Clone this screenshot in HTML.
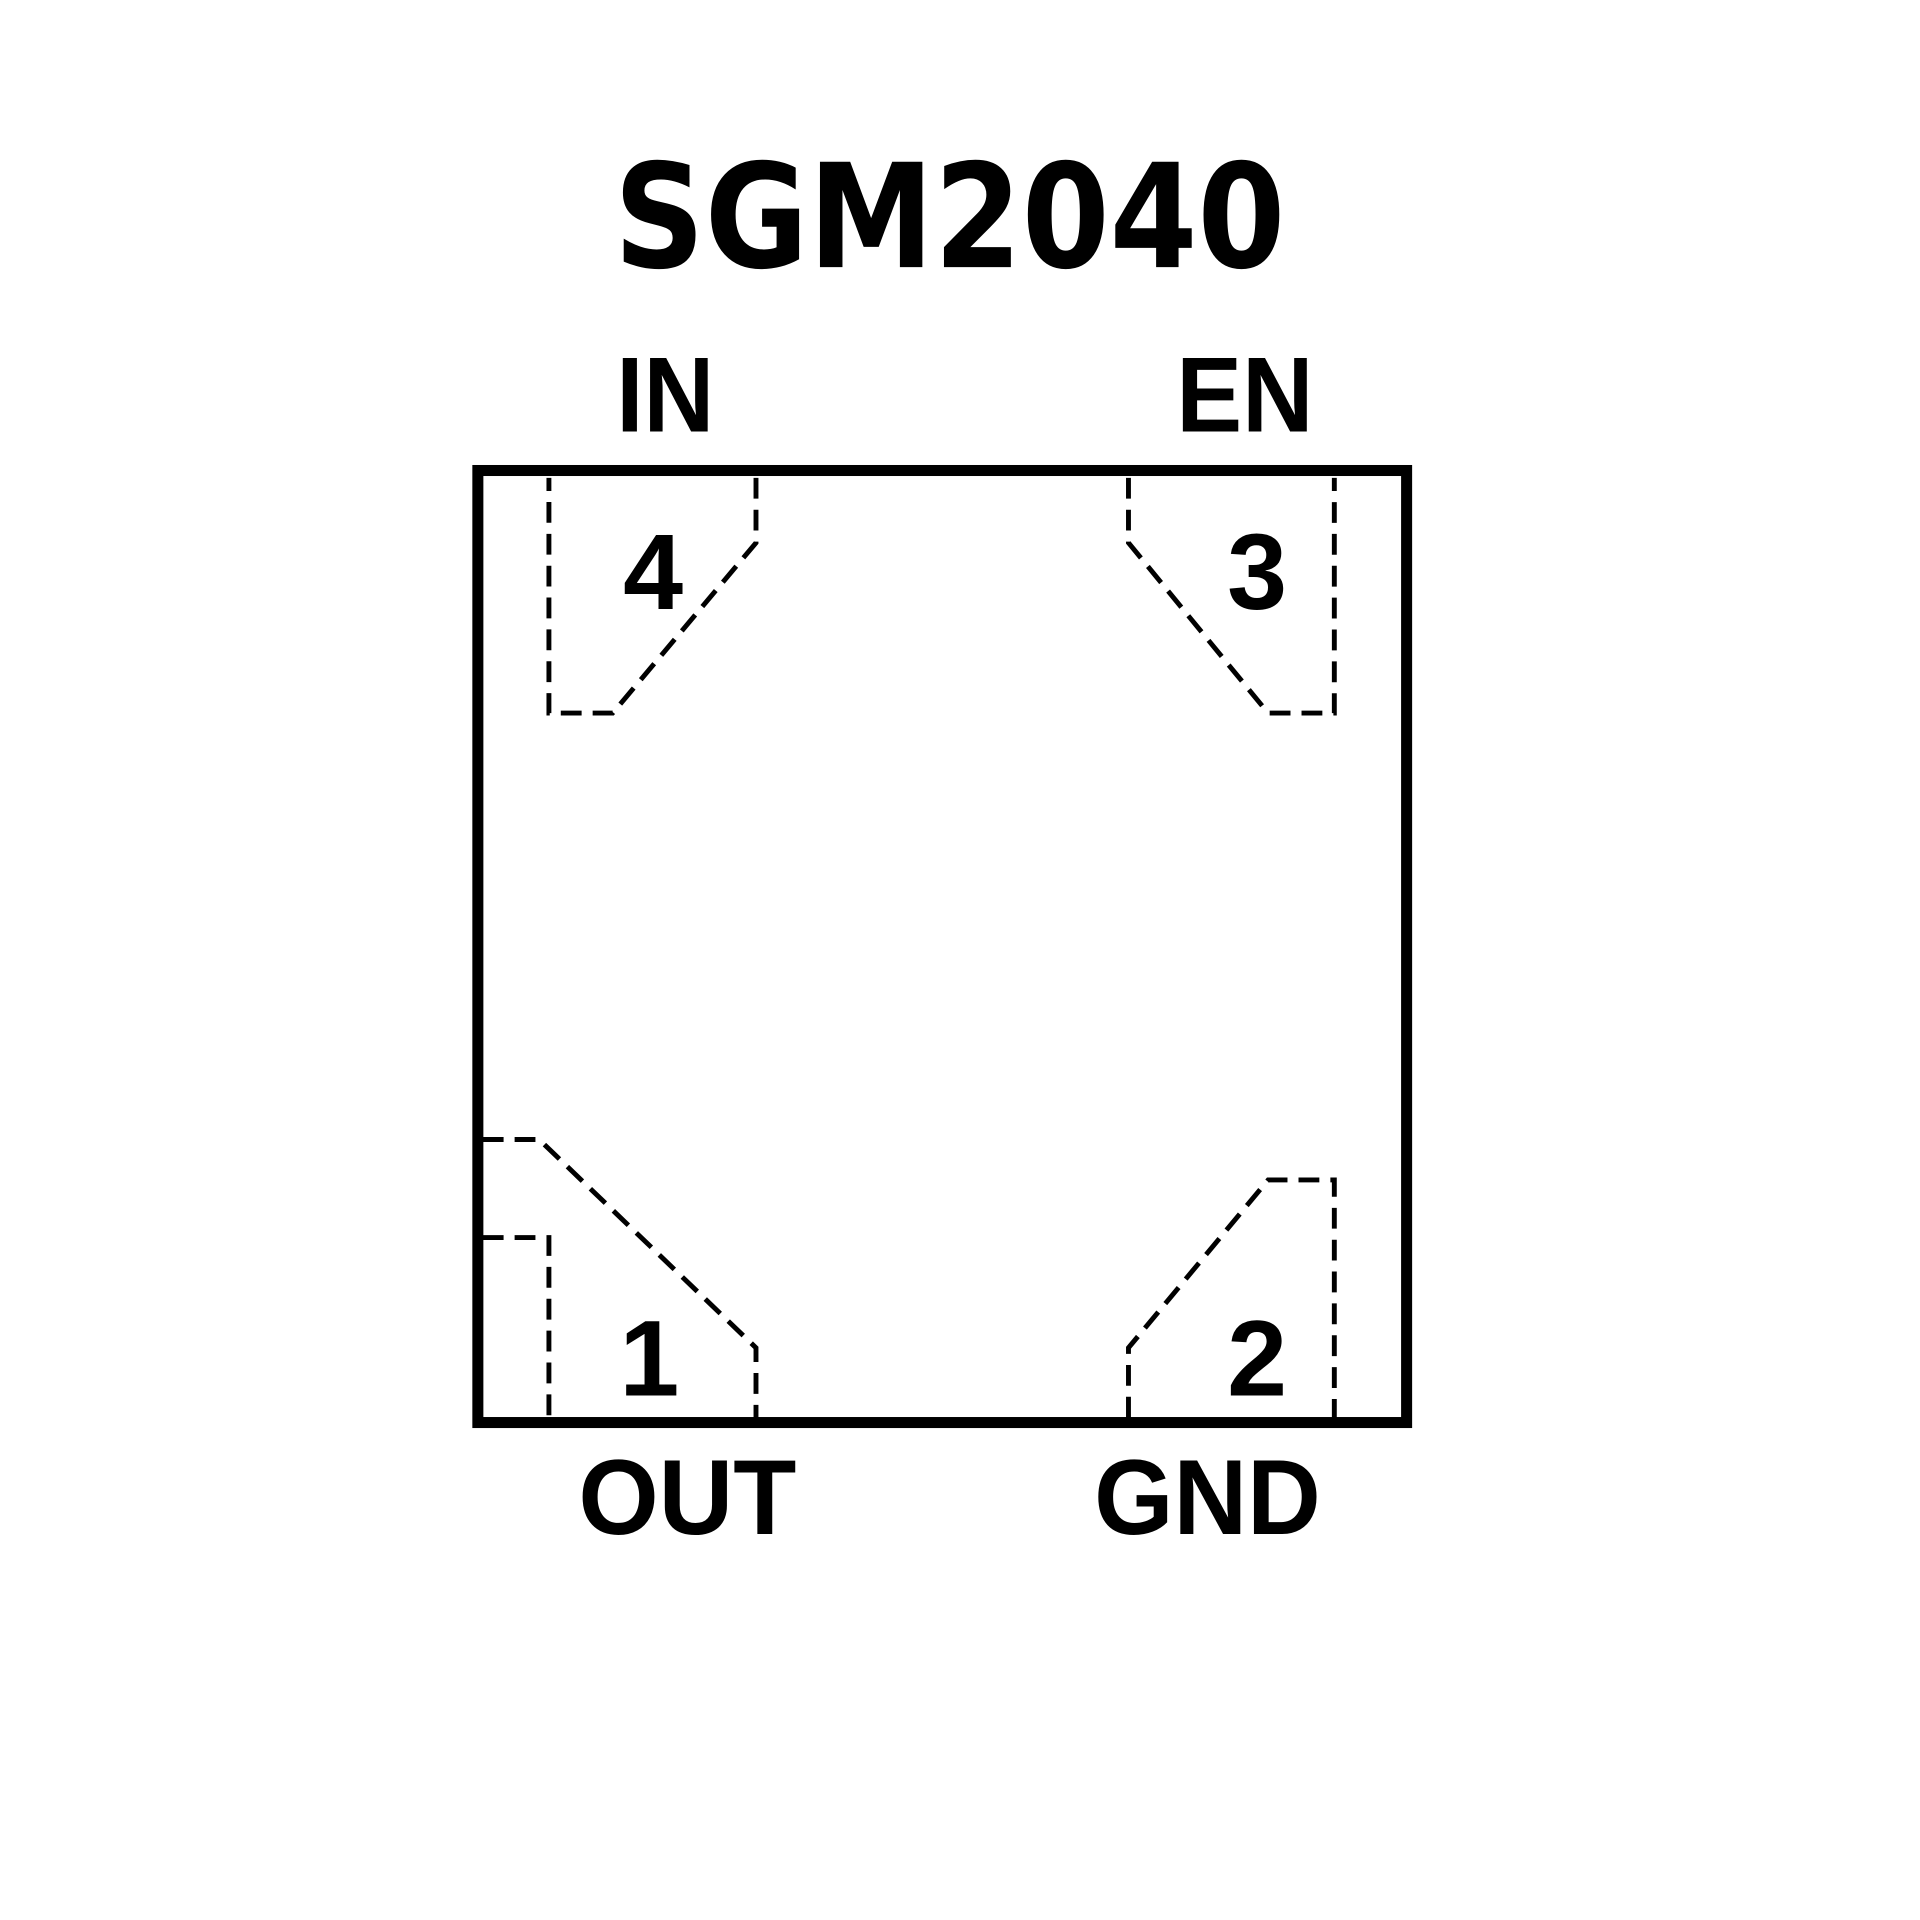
<!DOCTYPE html>
<html><head><meta charset="utf-8"><style>
html,body{margin:0;padding:0;background:#fff;width:1920px;height:1920px;overflow:hidden}
svg{display:block}
text{font-family:"Liberation Sans",Arial,sans-serif;font-weight:bold;fill:#000}
</style></head><body>
<svg width="1920" height="1920" viewBox="0 0 1567 1567" xmlns="http://www.w3.org/2000/svg">
<rect width="1567" height="1567" fill="#fff"/>
<text x="775" y="218" font-size="118" text-anchor="middle" textLength="548" lengthAdjust="spacingAndGlyphs" style='font-family:"DejaVu Sans","Liberation Sans",sans-serif'>SGM2040</text>
<text x="503" y="352" font-size="87" textLength="80" lengthAdjust="spacingAndGlyphs">IN</text>
<text x="960" y="352" font-size="87" textLength="112" lengthAdjust="spacingAndGlyphs">EN</text>
<text x="472" y="1252" font-size="87" textLength="178" lengthAdjust="spacingAndGlyphs">OUT</text>
<text x="893" y="1252" font-size="87" textLength="185" lengthAdjust="spacingAndGlyphs">GND</text>
<text x="533" y="497" font-size="88" text-anchor="middle">4</text>
<text x="1026" y="497" font-size="88" text-anchor="middle">3</text>
<text x="530" y="1139" font-size="88" text-anchor="middle">1</text>
<text x="1026" y="1139" font-size="88" text-anchor="middle">2</text>
<rect x="390" y="384" width="758" height="777" fill="none" stroke="#000" stroke-width="9"/>
<g fill="none" stroke="#000" stroke-width="4" stroke-dasharray="17,9">
<path d="M617,390 V443 L500,582 H448 V390"/>
<path d="M921,390 V443 L1035,582 H1089 V390"/>
<path d="M394,930 H440 L617,1100 V1157"/>
<path d="M394,1010 H448 V1157"/>
<path d="M921,1157 V1100 L1035,963 H1089 V1157"/>
</g>
</svg>
</body></html>
